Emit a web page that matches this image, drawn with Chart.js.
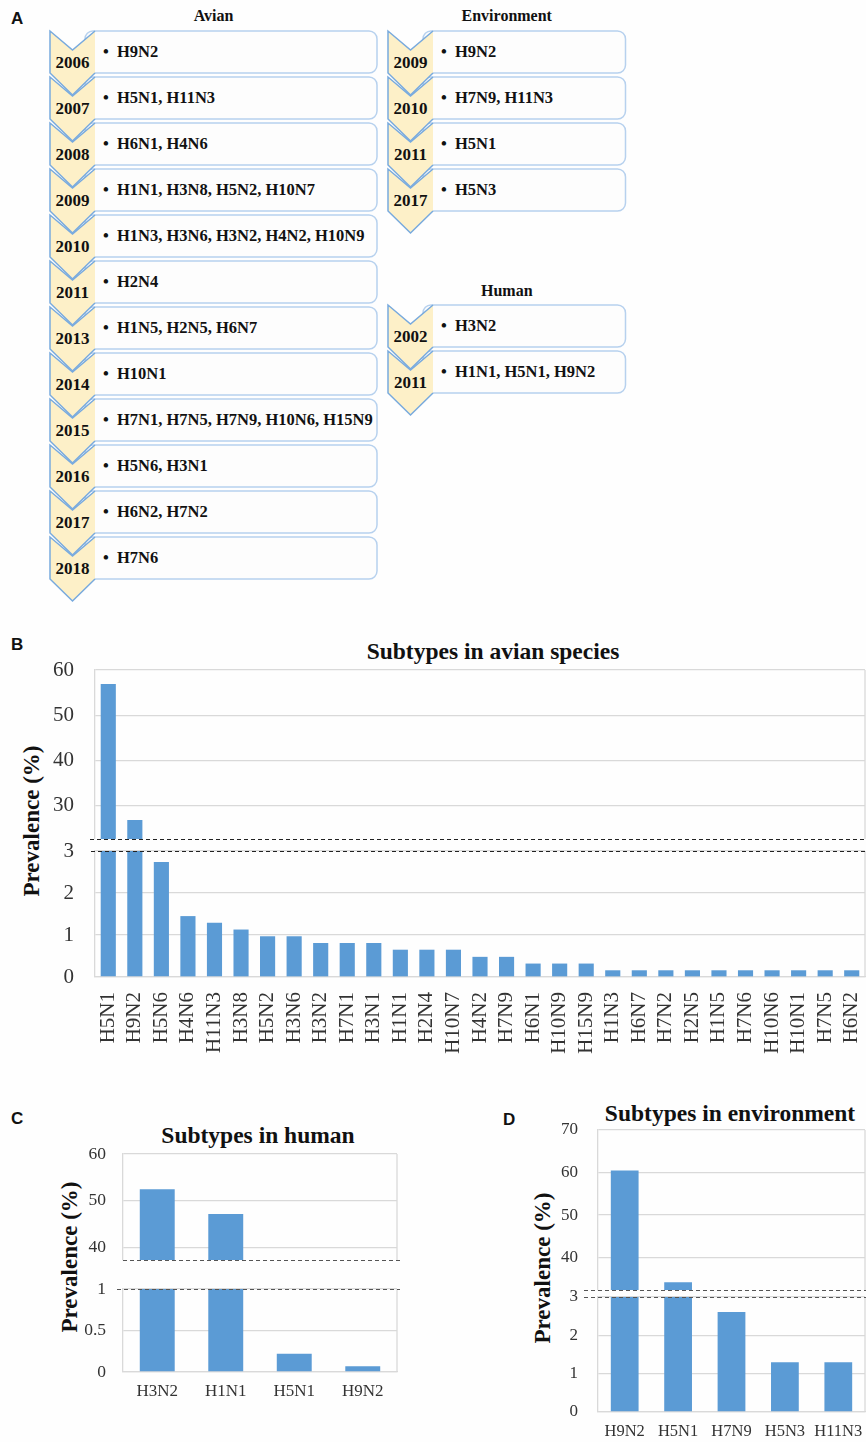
<!DOCTYPE html>
<html>
<head>
<meta charset="utf-8">
<script src="https://cdn.jsdelivr.net/npm/chart.js@4.4.0/dist/chart.umd.min.js"></script>
<style>
body { margin: 0; background: #fefefe; }
#page { position: relative; width: 866px; height: 1442px; overflow: hidden; font-family: "Liberation Serif", "Times New Roman", serif; color: #111; }
canvas { position: absolute; }
.letter { position: absolute; font-family: "Liberation Sans", Arial, sans-serif; font-weight: bold; font-size: 17px; line-height: 17px; }
.ptitle { position: absolute; font-weight: bold; font-size: 23.5px; line-height: 28px; white-space: nowrap; transform: translate(-50%, -50%); }
.ytitle { position: absolute; font-weight: bold; font-size: 23px; line-height: 28px; white-space: nowrap; transform: translate(-50%, -50%) rotate(-90deg); }
#timeline { position: absolute; left: 0; top: 0; }
#timeline .colTitle { font-family: "Liberation Serif", serif; font-weight: bold; font-size: 16px; text-anchor: middle; fill: #111; }
#timeline .year { font-family: "Liberation Serif", serif; font-weight: bold; font-size: 17px; text-anchor: middle; fill: #111; }
#timeline .sub { font-family: "Liberation Serif", serif; font-weight: bold; font-size: 16.5px; fill: #111; }
#timeline .box { fill: #fdfdfd; stroke: #b7d1ee; stroke-width: 1.5; }
#timeline .chev { fill: #fdf0c8; stroke: #78aade; stroke-width: 1.5; stroke-linejoin: miter; }
</style>
</head>
<body>
<div id="page">
  <svg id="timeline" width="866" height="620"></svg>

  <div class="letter" style="left:11px; top:10px;">A</div>
  <div class="letter" style="left:11px; top:636px;">B</div>
  <div class="letter" style="left:11px; top:1110px;">C</div>
  <div class="letter" style="left:503px; top:1111px;">D</div>

  <div class="ptitle" style="left:493px; top:651px;">Subtypes in avian species</div>
  <div class="ytitle" style="left:32px; top:821px;">Prevalence (%)</div>
  <canvas id="avianUp" width="866" height="185" style="left:0; top:656px;"></canvas>
  <canvas id="avianLow" width="866" height="233" style="left:0; top:837px;"></canvas>

  <div class="ptitle" style="left:258px; top:1135px;">Subtypes in human</div>
  <div class="ytitle" style="left:70px; top:1257px;">Prevalence (%)</div>
  <canvas id="humanUp" width="400" height="122" style="left:0; top:1140px;"></canvas>
  <canvas id="humanLow" width="400" height="135" style="left:0; top:1275px;"></canvas>

  <div class="ptitle" style="left:730px; top:1113px;">Subtypes in environment</div>
  <div class="ytitle" style="left:543px; top:1268px;">Prevalence (%)</div>
  <canvas id="envUp" width="376" height="176" style="left:490px; top:1116px;"></canvas>
  <canvas id="envLow" width="376" height="159" style="left:490px; top:1283px;"></canvas>
</div>
<script>
// Panel A: first detection year of each subtype
var avianYears = ['2006', '2007', '2008', '2009', '2010', '2011', '2013', '2014', '2015', '2016', '2017', '2018'];
var avianFirst = ['H9N2', 'H5N1, H11N3', 'H6N1, H4N6', 'H1N1, H3N8, H5N2, H10N7', 'H1N3, H3N6, H3N2, H4N2, H10N9',
    'H2N4', 'H1N5, H2N5, H6N7', 'H10N1', 'H7N1, H7N5, H7N9, H10N6, H15N9', 'H5N6, H3N1', 'H6N2, H7N2', 'H7N6'];
var envYears = ['2009', '2010', '2011', '2017'];
var envFirst = ['H9N2', 'H7N9, H11N3', 'H5N1', 'H5N3'];
var humanYears = ['2002', '2011'];
var humanFirst = ['H3N2', 'H1N1, H5N1, H9N2'];

// Panels B-D: prevalence (%)
var avianLabels = ['H5N1', 'H9N2', 'H5N6', 'H4N6', 'H11N3', 'H3N8', 'H5N2', 'H3N6', 'H3N2', 'H7N1', 'H3N1', 'H1N1', 'H2N4',
    'H10N7', 'H4N2', 'H7N9', 'H6N1', 'H10N9', 'H15N9', 'H1N3', 'H6N7', 'H7N2', 'H2N5', 'H1N5', 'H7N6', 'H10N6', 'H10N1', 'H7N5', 'H6N2'];
var avianValues = [56.9, 26.8, 2.74, 1.45, 1.29, 1.13, 0.97, 0.97, 0.81, 0.81, 0.81, 0.65, 0.65,
    0.65, 0.48, 0.48, 0.32, 0.32, 0.32, 0.16, 0.16, 0.16, 0.16, 0.16, 0.16, 0.16, 0.16, 0.16, 0.16];
var humanLabels = ['H3N2', 'H1N1', 'H5N1', 'H9N2'];
var humanValues = [52.5, 47.2, 0.22, 0.07];
var envLabels = ['H9N2', 'H5N1', 'H7N9', 'H5N3', 'H11N3'];
var envValues = [60.5, 34.2, 2.61, 1.3, 1.3];

// ---- timeline ----
function timeline(title, titleY, years, subs, x0, top, boxRight) {
    var x1 = x0 + 45, xc = x0 + 22.5, s = '', i, t;
    s += '<text class="colTitle" x="' + (x0 + boxRight) / 2 + '" y="' + titleY + '">' + title + '</text>';
    for (i = 0; i < years.length; i++) {
        t = top + i * 46;
        s += '<rect class="box" x="' + (x1 - 10) + '" y="' + t + '" width="' + (boxRight - x1 + 10) + '" height="42" rx="8" ry="8"/>';
    }
    for (i = 0; i < years.length; i++) {
        t = top + i * 46;
        s += '<path class="chev" d="M' + x1 + ',' + t + ' L' + xc + ',' + (t + 19) + ' L' + x0 + ',' + t +
            ' L' + x0 + ',' + (t + 42) + ' L' + xc + ',' + (t + 64) + ' L' + x1 + ',' + (t + 42) + '"/>';
    }
    for (i = 0; i < years.length; i++) {
        t = top + i * 46;
        s += '<text class="year" x="' + xc + '" y="' + (t + 36.6) + '">' + years[i] + '</text>';
        s += '<text class="sub" x="' + (x1 + 8) + '" y="' + (t + 26.4) + '">\u2022</text>';
        s += '<text class="sub" x="' + (x1 + 22) + '" y="' + (t + 26.4) + '">' + subs[i] + '</text>';
    }
    return s;
}
document.getElementById('timeline').innerHTML =
    timeline('Avian', 20.5, avianYears, avianFirst, 50, 31, 377) +
    timeline('Environment', 20.5, envYears, envFirst, 388, 31, 625.5) +
    timeline('Human', 296, humanYears, humanFirst, 388, 305, 625.5);

// ---- broken axis bar charts: each panel is an upper and a lower chart ----
var serif = "'Liberation Serif', 'Times New Roman', serif";

var breakLines = {
    id: 'breakLines',
    afterDraw: function (chart, args, opts) {
        var ctx = chart.ctx, a = chart.chartArea;
        ctx.save();
        // right frame of the plot
        ctx.strokeStyle = '#d9d9d9';
        ctx.lineWidth = 1.3;
        ctx.beginPath();
        ctx.moveTo(a.right, a.top);
        ctx.lineTo(a.right, a.bottom);
        ctx.stroke();
        // dashed break line
        var y = Math.round(opts.edge === 'bottom' ? a.bottom : a.top) + 0.5;
        ctx.strokeStyle = opts.color;
        ctx.lineWidth = 1;
        ctx.setLineDash([opts.on, opts.off]);
        ctx.beginPath();
        ctx.moveTo(opts.x0, y);
        ctx.lineTo(opts.x1, y);
        ctx.stroke();
        ctx.restore();
    }
};
Chart.register(breakLines);

function part(id, labels, values, p) {
    var ctx = document.getElementById(id).getContext('2d');
    return new Chart(ctx, {
        type: 'bar',
        data: {
            labels: labels,
            datasets: [{
                data: values,
                backgroundColor: '#5b9bd5',
                categoryPercentage: 1,
                barPercentage: p.bar,
                clip: 0
            }]
        },
        options: {
            responsive: false,
            animation: false,
            layout: { padding: { top: 14, right: p.padRight, bottom: p.upper ? 2 : 0, left: 0 } },
            plugins: {
                legend: { display: false },
                tooltip: { enabled: false },
                breakLines: { edge: p.upper ? 'bottom' : 'top', x0: p.dashFrom, x1: p.dashTo, color: p.dashColor, on: 4, off: 3 }
            },
            scales: {
                x: {
                    display: !p.upper,
                    grid: { display: false, drawTicks: false },
                    border: { display: true, color: '#d9d9d9', width: 1.3 },
                    ticks: {
                        autoSkip: false,
                        minRotation: p.rotate,
                        maxRotation: p.rotate,
                        padding: p.xPad,
                        color: '#333',
                        font: { family: serif, size: p.xFont }
                    },
                    afterFit: function (s) {
                        s.height = p.upper ? 0 : p.xH;
                        s.paddingLeft = 0;
                        s.paddingRight = 0;
                    }
                },
                y: {
                    min: p.min,
                    max: p.max,
                    ticks: {
                        stepSize: p.step,
                        maxTicksLimit: 20,
                        includeBounds: false,
                        padding: 3,
                        color: '#333',
                        font: { family: serif, size: p.yFont },
                        callback: function (v) { return String(v); }
                    },
                    grid: { color: '#d9d9d9', lineWidth: 1.3, tickLength: p.tickLen, tickColor: 'rgba(0,0,0,0)' },
                    border: { color: '#d9d9d9', width: 1.3 },
                    afterBuildTicks: function (s) {
                        s.ticks = s.ticks.filter(function (t) {
                            var k = t.value / p.step;
                            return Math.abs(k - Math.round(k)) < 1e-6;
                        });
                    },
                    afterFit: function (s) { s.width = p.axisW; s.paddingTop = 0; s.paddingBottom = 0; }
                }
            }
        }
    });
}

// B: avian species
part('avianUp', avianLabels, avianValues, {
    upper: true, min: 22.6, max: 60, step: 10, axisW: 95, tickLen: 18, padRight: 1, bar: 0.57,
    yFont: 21, xFont: 21, xPad: 15, xH: 93, rotate: 90, dashFrom: 90, dashTo: 866, dashColor: '#222'
});
part('avianLow', avianLabels, avianValues, {
    upper: false, min: 0, max: 3, step: 1, axisW: 95, tickLen: 18, padRight: 1, bar: 0.57,
    yFont: 21, xFont: 21, xPad: 15, xH: 93, rotate: 90, dashFrom: 91, dashTo: 866, dashColor: '#222'
});

// C: human
part('humanUp', humanLabels, humanValues, {
    upper: true, min: 37.4, max: 60, step: 10, axisW: 123, tickLen: 14, padRight: 3, bar: 0.51,
    yFont: 17.5, xFont: 17, xPad: 9, xH: 38, rotate: 0, dashFrom: 123, dashTo: 400, dashColor: '#555'
});
part('humanLow', humanLabels, humanValues, {
    upper: false, min: 0, max: 1, step: 0.5, axisW: 123, tickLen: 14, padRight: 3, bar: 0.51,
    yFont: 17.5, xFont: 17, xPad: 9, xH: 38, rotate: 0, dashFrom: 117, dashTo: 400, dashColor: '#555'
});

// D: environment
part('envUp', envLabels, envValues, {
    upper: true, min: 32.4, max: 70, step: 10, axisW: 108, tickLen: 17, padRight: 1, bar: 0.52,
    yFont: 17, xFont: 16.5, xPad: 10, xH: 30, rotate: 0, dashFrom: 94, dashTo: 376, dashColor: '#555'
});
part('envLow', envLabels, envValues, {
    upper: false, min: 0, max: 3, step: 1, axisW: 108, tickLen: 17, padRight: 1, bar: 0.52,
    yFont: 17, xFont: 16.5, xPad: 10, xH: 30, rotate: 0, dashFrom: 94, dashTo: 376, dashColor: '#555'
});
</script>
</body>
</html>
